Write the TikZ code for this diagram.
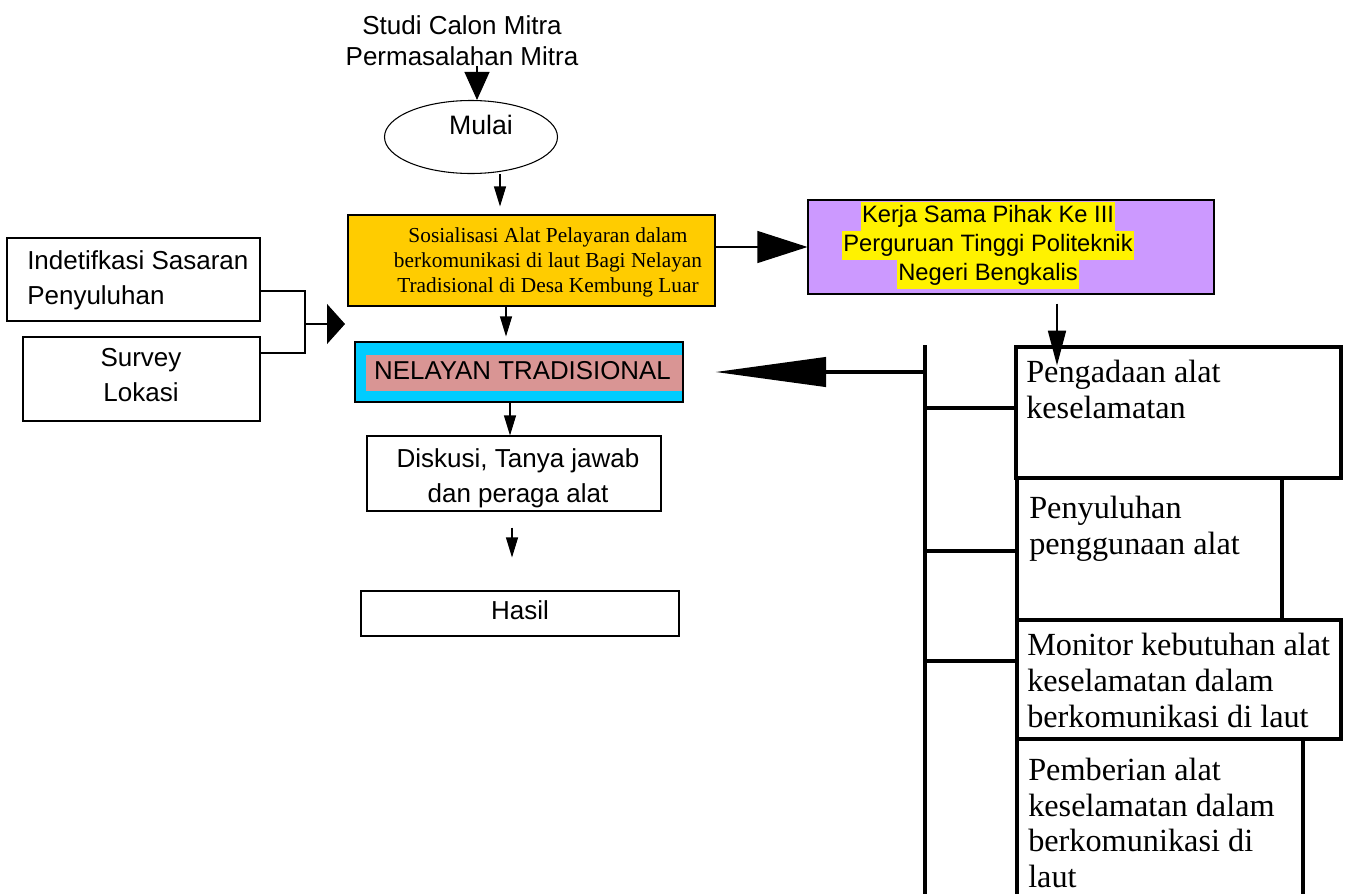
\documentclass[tikz,border=0pt]{standalone}
\usepackage{fontspec}
\setmainfont{Liberation Serif}
\setsansfont{Liberation Sans}
\usepackage{tikz}
\usetikzlibrary{arrows.meta,shapes,calc,fit}
\usetikzlibrary{positioning}
\definecolor{oranye}{HTML}{FFCC00}
\definecolor{ungu}{HTML}{CC99FF}
\definecolor{biru}{HTML}{00CCFF}
\definecolor{merahmuda}{HTML}{D99594}
\newcommand\huruf[2]{\fontsize{#1}{#2}\selectfont}
\tikzset{
  kotak/.style={draw, line width=0.8pt, inner sep=0pt},
  kotaktebal/.style={draw, line width=2.4pt, inner sep=0pt},
  teks/.style={inner sep=0pt, font=\sffamily\huruf{19.5}{26.25}, align=center},
  teksrm/.style={inner sep=0pt, font=\rmfamily\huruf{24.2}{27}, align=left, anchor=north west},
  panah/.style={line width=0.8pt, -{Triangle[length=15pt,width=9pt]}},
  tebal/.style={line width=2.4pt},
  stabilo/.style={fill=yellow, inner xsep=1pt, inner ysep=0pt, minimum height=21.75pt,
    text height=13.5pt, text depth=4pt, font=\sffamily\huruf{17.8}{21}}
}

\begin{document}
\begin{tikzpicture}[x=0.75pt,y=-0.75pt]
  \clip (0,0) rectangle (1346,893);
  \node[teks, font=\sffamily\huruf{19.5}{23.25}] (studi) at (462,41) {Studi Calon Mitra\\Permasalahan Mitra};
  \node[kotak, ellipse, minimum width=129.75pt, minimum height=54.75pt] (mulai) at (471,137) {};
  \node[teks, font=\sffamily\huruf{20}{24}] (mulaitxt) at (481,125) {Mulai};
  \node[kotak, fill=oranye, fit={(348,215) (715,306)}] (sosial) {};
  \node[teks, font=\rmfamily\huruf{16}{18.75}] (sosialtxt) at (548,262)
    {Sosialisasi Alat Pelayaran dalam\\berkomunikasi di laut Bagi Nelayan\\Tradisional di Desa Kembung Luar};
  \node[kotak, fill=biru, fit={(355,342) (683,402)}] (nelayan) {};
  \node[fill=merahmuda, inner sep=0pt, fit={(366,355) (682,391)}] (sorot) {};
  \node[teks, font=\sffamily\huruf{19.4}{22}] (nelayantxt) at (522.5,371) {NELAYAN TRADISIONAL};
  \node[kotak, fit={(367,436) (661,511)}] (diskusi) {};
  \node[teks] (diskusitxt) at (518,478) {Diskusi, Tanya jawab\\dan peraga alat};
  \node[kotak, fit={(361,591) (679,636)}] (hasil) {};
  \node[teks] (hasiltxt) at (520,610.5) {Hasil};

  \node[kotak, fit={(7,238) (260,321)}] (sasaran) {};
  \node[teks, align=left, anchor=north west] (sasarantxt) at (27,250) {Indetifkasi Sasaran\\Penyuluhan};
  \node[kotak, fit={(23,337) (260,421)}] (survey) {};
  \node[teks] (surveytxt) at (141,375) {Survey\\Lokasi};
  \coordinate (gabung) at (305,324);
  \coordinate (gabungujung) at (345,324);
  \draw[line width=0.8pt] ([yshift=-8.6pt]sasaran.east) -| (gabung) |- ([yshift=19.5pt]survey.east);
  \draw[line width=0.8pt, -{Triangle[length=13.5pt,width=30pt]}] (gabung) -- (gabungujung);

  \node[kotak, fill=ungu, fit={(808,200) (1214,294)}] (mitra) {};
  \foreach \baris [count=\i] in {Kerja Sama Pihak Ke III, Perguruan Tinggi Politeknik, Negeri Bengkalis}
    \node[stabilo] (mitra\i) at (988,187.5+29*\i) {\baris};

  \draw[line width=0.8pt, -{Triangle[length=21pt,width=18.75pt]}] (477,0 |- studi.south) -- (477,0 |- mulai.north);
  \draw[panah, shorten >=6pt] (500,0 |- mulai.south) -- (500,0 |- sosial.north);
  \draw[line width=0.8pt, -{Triangle[length=37.5pt,width=24pt]}] (sosial.east |- mitra.west) -- (mitra.west);
  \draw[panah, shorten >=3.75pt] (506,0 |- sosial.south) -- (506,0 |- nelayan.north);
  \draw[panah] (510,0 |- nelayan.south) -- (510,0 |- diskusi.north);
  \draw[panah, shorten <=12pt, shorten >=24.75pt] (512,0 |- diskusi.south) -- (512,0 |- hasil.north);

  \node[kotaktebal, fit={(1016,347) (1341,478)}] (pengadaan) {};
  \node[teksrm] (pengadaantxt) at (1026,360) {Pengadaan alat\\keselamatan};
  \node[kotaktebal, fit={(1017,478) (1282,620)}] (penyuluhan) {};
  \node[teksrm] (penyuluhantxt) at (1029,496) {Penyuluhan\\penggunaan alat};
  \node[kotaktebal, fit={(1017,620) (1341,739)}] (monitor) {};
  \node[teksrm] (monitortxt) at (1027,633) {Monitor kebutuhan alat\\keselamatan dalam\\berkomunikasi di laut};
  \node[kotaktebal, fit={(1017,739) (1303,930)}] (pemberian) {};
  \node[teksrm, font=\rmfamily\huruf{24.2}{26.6}] (pemberiantxt) at (1028,758) {Pemberian alat\\keselamatan dalam\\berkomunikasi di\\laut};
  \draw[line width=1.2pt, -{Triangle[length=26pt,width=13.5pt]}, shorten <=6.75pt]
    (1057,0 |- mitra.south) -- ($(1057,0 |- pengadaan.north)+(0,20)$);

  \coordinate (busatas) at (925,345);
  \coordinate (busbawah) at (925,900);
  \draw[tebal] (busatas) -- (busbawah);
  \draw[tebal, -{Triangle[length=83pt,width=22pt]}, shorten >=24pt] (busatas |- 0,372) -- (nelayan.east |- 0,372);
  \draw[tebal] (busatas |- 0,408) -- (pengadaan.west |- 0,408);
  \draw[tebal] (busatas |- 0,551) -- (penyuluhan.west |- 0,551);
  \draw[tebal] (busatas |- 0,661) -- (monitor.west |- 0,661);
\end{tikzpicture}
\end{document}
